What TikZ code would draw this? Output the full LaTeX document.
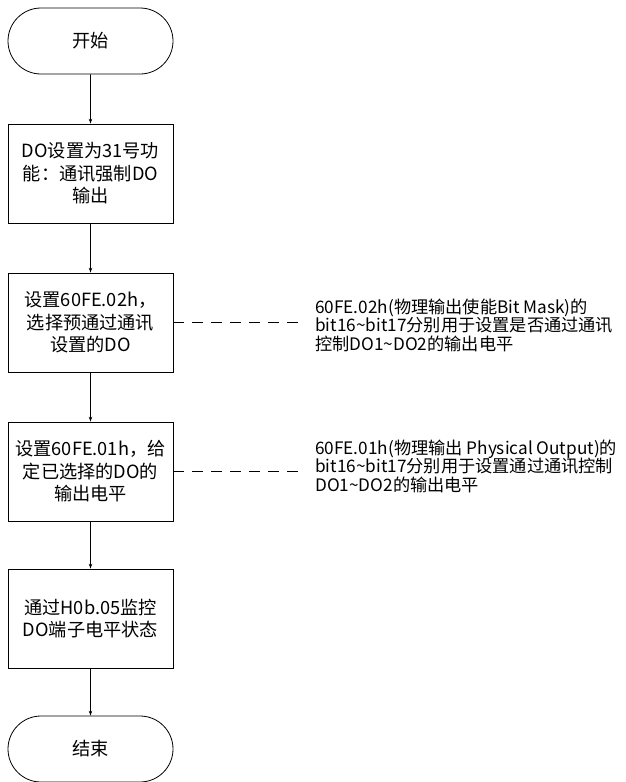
\documentclass[tikz,border=0pt]{standalone}
\usepackage{fontspec}
\setmainfont{Noto Sans CJK SC}
\usetikzlibrary{shapes.misc,arrows.meta}
\begin{document}
\begin{tikzpicture}[x=1pt,y=1pt,
  every node/.style={font=\fontsize{18.2}{22.5}\selectfont},
  term/.style={draw,rounded rectangle,minimum width=165pt,minimum height=66pt,line width=0.8pt,inner sep=0pt},
  procbox/.style={draw,rectangle,minimum width=165pt,minimum height=99pt,line width=0.8pt,align=center,inner sep=0pt},
  note/.style={anchor=west,align=left,inner sep=0pt,font=\fontsize{17.2}{18.5}\selectfont},
  flow/.style={line width=0.8pt,-{Stealth[length=5pt,width=3.5pt]}},
  link/.style={line width=0.8pt,dash pattern=on 11pt off 8pt}]
\useasboundingbox (0,0) rectangle (626,-782);
\node[term] (start) at (90.5,-41) {开始};
\node[procbox] (b1) at (90.5,-173.5) {DO设置为31号功\\能：通讯强制DO\\输出};
\node[procbox] (b2) at (90.5,-322.5) {设置60FE.02h，\\选择预通过通讯\\设置的DO};
\node[procbox] (b3) at (90.5,-471.5) {设置60FE.01h，给\\定已选择的DO的\\输出电平};
\node[procbox] (b4) at (90.5,-618.5) {通过H0b.05监控\\DO端子电平状态};
\node[term] (end) at (90.5,-749) {结束};
\draw[flow] (start) -- (b1);
\draw[flow] (b1) -- (b2);
\draw[flow] (b2) -- (b3);
\draw[flow] (b3) -- (b4);
\draw[flow] (b4) -- (end);
\node[note] (n1) at (315,-325) {60FE.02h(物理输出使能Bit Mask)的\\bit16\textasciitilde bit17分别用于设置是否通过通讯\\控制DO1\textasciitilde DO2的输出电平};
\node[note] (n2) at (315,-466) {60FE.01h(物理输出 Physical Output)的\\bit16\textasciitilde bit17分别用于设置通过通讯控制\\DO1\textasciitilde DO2的输出电平};
\coordinate (e1) at (303,-322.5);
\coordinate (e2) at (303,-471.5);
\draw[link] (b2.east) -- (e1);
\draw[link] (b3.east) -- (e2);
\end{tikzpicture}
\end{document}
